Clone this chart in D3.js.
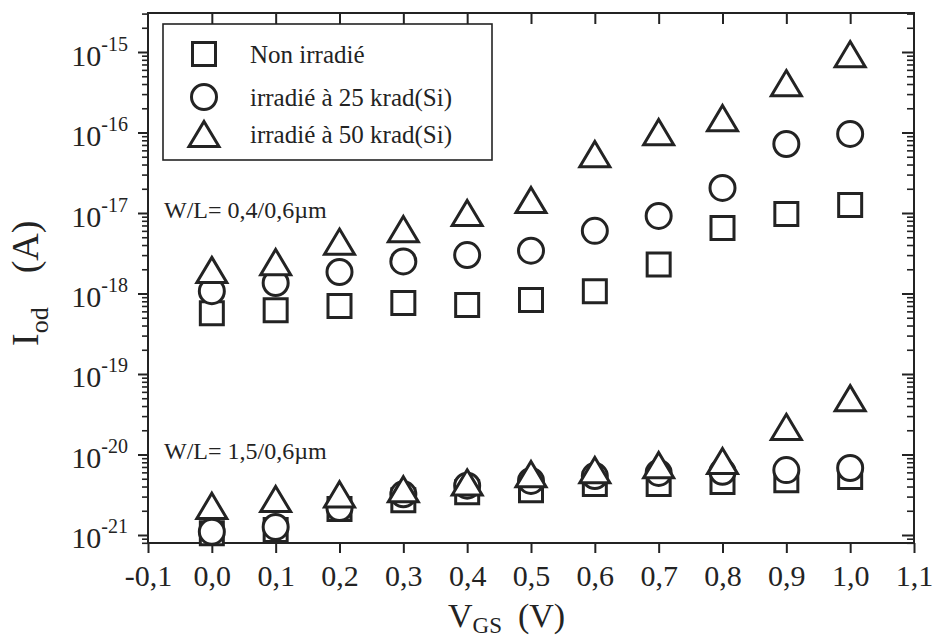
<!DOCTYPE html>
<html>
<head>
<meta charset="utf-8">
<script src="https://cdn.jsdelivr.net/npm/d3@7"></script>
<style>
  html, body { margin: 0; padding: 0; background: #fff; }
  svg { display: block; font-family: "Liberation Serif", "DejaVu Serif", serif; }
</style>
</head>
<body>
<svg id="chart" width="934" height="641"></svg>
<script>
// ---------------- data ----------------
const vgs = [0.0, 0.1, 0.2, 0.3, 0.4, 0.5, 0.6, 0.7, 0.8, 0.9, 1.0];

// W/L = 0,4/0,6 µm
const nonIrr_04 = [5.7e-19, 6.2e-19, 7.0e-19, 7.6e-19, 7.2e-19, 8.3e-19, 1.07e-18, 2.3e-18, 6.5e-18, 9.7e-18, 1.26e-17];
const irr25_04  = [1.07e-18, 1.35e-18, 1.85e-18, 2.5e-18, 3.0e-18, 3.4e-18, 6.0e-18, 9.2e-18, 2.05e-17, 7.2e-17, 9.6e-17];
const irr50_04  = [1.96e-18, 2.46e-18, 4.4e-18, 6.3e-18, 1.0e-17, 1.45e-17, 5.4e-17, 1.01e-16, 1.51e-16, 4.1e-16, 9.4e-16];

// W/L = 1,5/0,6 µm
const nonIrr_15 = [1.05e-21, 1.15e-21, 2.1e-21, 2.7e-21, 3.4e-21, 3.6e-21, 4.3e-21, 4.3e-21, 4.55e-21, 4.8e-21, 5.25e-21];
const irr25_15  = [1.1e-21, 1.26e-21, 2.16e-21, 3.2e-21, 4.1e-21, 4.7e-21, 5.4e-21, 5.9e-21, 6.1e-21, 6.4e-21, 6.8e-21];
const irr50_15  = [2.3e-21, 2.8e-21, 3.2e-21, 3.7e-21, 4.5e-21, 5.7e-21, 6.4e-21, 7.4e-21, 8.3e-21, 2.2e-20, 5.0e-20];

const xTickValues = [-0.1, 0.0, 0.1, 0.2, 0.3, 0.4, 0.5, 0.6, 0.7, 0.8, 0.9, 1.0, 1.1];
const yDecades = [-21, -20, -19, -18, -17, -16, -15];
const legendLabels = ["Non irradié", "irradié à 25 krad(Si)", "irradié à 50 krad(Si)"];
const annotations = ["W/L= 0,4/0,6µm", "W/L= 1,5/0,6µm"];
const annotationValues = [1e-17, 1e-20];

// ---------------- layout ----------------
const svg = d3.select("#chart");
const ink = "#232323";
const pL = 148, pR = 914, pT = 13, pB = 543;

const x = d3.scaleLinear().domain([-0.1, 1.1]).range([pL, pR]);
const y = d3.scaleLog().domain([Math.pow(10, -21.0994), Math.pow(10, -14.5155)]).range([pB, pT]);

const fr = d3.formatLocale({decimal: ",", thousands: ".", grouping: [3], currency: ["", ""], minus: "-"});
const fmt = fr.format(".1f");

// minor tick values for log axis
const minorVals = [];
for (let d = -22; d <= -15; d++) {
  for (let m = 2; m <= 9; m++) {
    const v = m * Math.pow(10, d);
    if (v > y.domain()[0] && v < y.domain()[1]) minorVals.push(v);
  }
}
const majorVals = yDecades.map(d => Math.pow(10, d));

function styleAxis(g) {
  g.select(".domain").remove();
  g.selectAll(".tick line").attr("stroke", ink).attr("stroke-width", 2);
}

// bottom axis (ticks outward) with labels
svg.append("g")
  .attr("transform", `translate(0,${pB})`)
  .call(d3.axisBottom(x).tickValues(xTickValues).tickSize(10).tickPadding(12).tickFormat(fmt))
  .call(styleAxis)
  .call(g => g.selectAll("text")
      .attr("fill", ink)
      .style("font-family", "'Liberation Serif', serif")
      .style("font-size", "30px"));

// top axis (ticks inward)
svg.append("g")
  .attr("transform", `translate(0,${pT})`)
  .call(d3.axisTop(x).tickValues(xTickValues.slice(1, -1)).tickSize(-11).tickFormat(""))
  .call(styleAxis);

// left axis: minor + major outward
svg.append("g")
  .attr("transform", `translate(${pL},0)`)
  .call(d3.axisLeft(y).tickValues(minorVals).tickSize(6).tickFormat(""))
  .call(styleAxis)
  .call(g => g.selectAll(".tick line").attr("stroke-width", 1.6));

const leftMajor = svg.append("g")
  .attr("transform", `translate(${pL},0)`)
  .call(d3.axisLeft(y).tickValues(majorVals).tickSize(10).tickFormat(""))
  .call(styleAxis);

leftMajor.selectAll(".tick").each(function(d) {
  const t = d3.select(this).append("text")
    .attr("x", -20)
    .attr("y", 13)
    .attr("text-anchor", "end")
    .attr("fill", ink)
    .style("font-family", "'Liberation Serif', serif")
    .style("font-size", "30px");
  t.append("tspan").text("10");
  t.append("tspan").attr("dy", -15).style("font-size", "20px").text(String(Math.round(Math.log10(d))));
});

// right axis: inward
svg.append("g")
  .attr("transform", `translate(${pR},0)`)
  .call(d3.axisRight(y).tickValues(minorVals).tickSize(-7).tickFormat(""))
  .call(styleAxis)
  .call(g => g.selectAll(".tick line").attr("stroke-width", 1.6));
svg.append("g")
  .attr("transform", `translate(${pR},0)`)
  .call(d3.axisRight(y).tickValues(majorVals).tickSize(-12).tickFormat(""))
  .call(styleAxis);

// frame
svg.append("rect")
  .attr("x", pL).attr("y", pT)
  .attr("width", pR - pL).attr("height", pB - pT)
  .attr("fill", "none").attr("stroke", ink).attr("stroke-width", 2);

// ---------------- symbols ----------------
const triSym = {
  draw(ctx, size) {
    const w = Math.sqrt(size); // base width
    const h = w * 0.84;
    ctx.moveTo(0, -h / 2);
    ctx.lineTo(w / 2, h / 2);
    ctx.lineTo(-w / 2, h / 2);
    ctx.closePath();
  }
};
const symSquare = d3.symbol().type(d3.symbolSquare).size(23 * 23);
const symCircle = d3.symbol().type(d3.symbolCircle).size(Math.PI * 12.5 * 12.5);
const symTri = d3.symbol().type(triSym).size(30 * 30);
const symbols = [symSquare, symCircle, symTri];

const seriesSets = [
  [nonIrr_04, irr25_04, irr50_04],
  [nonIrr_15, irr25_15, irr50_15]
];

const marks = svg.append("g");
seriesSets.forEach(set => {
  set.forEach((vals, si) => {
    marks.append("g").selectAll("path")
      .data(vals.map((v, i) => ({vx: vgs[i], vy: v})))
      .join("path")
      .attr("transform", d => `translate(${x(d.vx)},${y(d.vy)})`)
      .attr("d", symbols[si]())
      .attr("fill", "#fff")
      .attr("stroke", ink)
      .attr("stroke-width", 3)
      .attr("stroke-linejoin", "miter");
  });
});

// ---------------- legend ----------------
const lg = svg.append("g");
lg.append("rect")
  .attr("x", 163).attr("y", 24).attr("width", 329).attr("height", 136)
  .attr("fill", "#fff").attr("stroke", ink).attr("stroke-width", 1.6);
const rowsY = [54, 97, 134];
legendLabels.forEach((lab, i) => {
  lg.append("path")
    .attr("transform", `translate(204,${rowsY[i]})`)
    .attr("d", symbols[i]())
    .attr("fill", "#fff").attr("stroke", ink).attr("stroke-width", 3);
  lg.append("text")
    .attr("x", 250).attr("y", rowsY[i] + 9)
    .attr("fill", ink)
    .style("font-size", "25px")
    .text(lab);
});

// ---------------- annotations ----------------
annotations.forEach((a, i) => {
  svg.append("text")
    .attr("x", 164)
    .attr("y", y(annotationValues[i]) + 5)
    .attr("fill", ink)
    .style("font-size", "24px")
    .text(a);
});

// ---------------- axis titles ----------------
const xt = svg.append("text")
  .attr("x", 448).attr("y", 627)
  .attr("fill", ink)
  .style("font-size", "34px");
xt.append("tspan").text("V");
xt.append("tspan").attr("dy", 6).style("font-size", "23px").text("GS");
xt.append("tspan").attr("dy", -6).attr("dx", 16).text("(V)");

const yt = svg.append("g").attr("transform", "translate(38,346) rotate(-90)");
const ytt = yt.append("text").attr("x", 0).attr("y", 0).attr("fill", ink).style("font-size", "38px");
ytt.append("tspan").text("I");
ytt.append("tspan").attr("dy", 10).style("font-size", "26px").text("od");
ytt.append("tspan").attr("dy", -10).attr("dx", 34).text("(A)");
</script>
</body>
</html>
